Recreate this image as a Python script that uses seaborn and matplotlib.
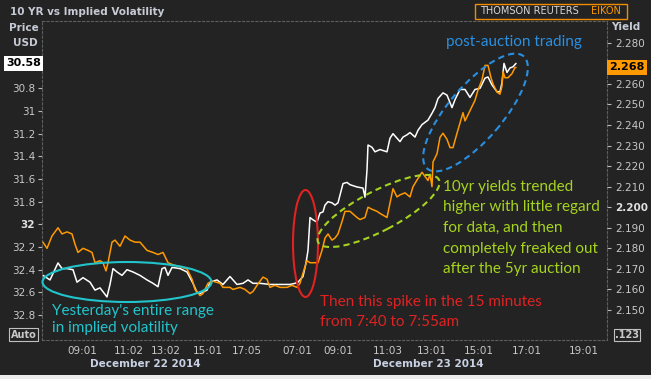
import matplotlib
matplotlib.use("Agg")
import matplotlib.pyplot as plt
import matplotlib.transforms as mtransforms
from matplotlib.patches import Ellipse, Rectangle
import seaborn as sns
import pandas as pd

# ---------------- data ----------------
# x is an intraday "bar index" (the Eikon axis is not linear in time)
price_x = [1, 8, 16, 20, 25, 31, 35, 41, 48, 53,
           58, 65, 68, 71, 75, 80, 85, 91, 98, 105,
           111, 116, 120, 123, 126, 130, 138, 145, 151, 155,
           158, 165, 168, 175, 181, 188, 195, 201, 206, 211,
           218, 228, 238, 248, 253, 256, 261, 264, 266, 268,
           271, 275, 278, 281, 283, 286, 290, 293, 296, 301,
           305, 308, 315, 321, 323, 325, 326, 330, 333, 338,
           345, 348, 351, 355, 358, 361, 365, 368, 373, 376,
           380, 383, 386, 390, 393, 396, 401, 405, 410, 413,
           418, 423, 428, 433, 438, 443, 446, 450, 455, 458,
           460, 462, 465, 468, 471, 474]
price_usd = [32.45, 32.49, 32.34, 32.39, 32.39, 32.40, 32.51, 32.47, 32.51, 32.58,
             32.56, 32.64, 32.53, 32.39, 32.42, 32.45, 32.40, 32.42, 32.45, 32.49,
             32.52, 32.55, 32.39, 32.38, 32.45, 32.38, 32.39, 32.42, 32.52, 32.60,
             32.61, 32.58, 32.51, 32.49, 32.53, 32.46, 32.53, 32.52, 32.49, 32.52,
             32.52, 32.53, 32.53, 32.53, 32.52, 32.51, 32.46, 32.34, 32.23, 31.94,
             31.96, 31.98, 31.90, 31.89, 31.83, 31.80, 31.81, 31.83, 31.81, 31.64,
             31.63, 31.65, 31.67, 31.68, 31.76, 31.52, 31.30, 31.32, 31.36, 31.34,
             31.36, 31.24, 31.20, 31.24, 31.27, 31.23, 31.21, 31.19, 31.23, 31.17,
             31.12, 31.10, 31.08, 31.02, 30.97, 30.89, 30.84, 30.86, 30.97, 30.90,
             30.81, 30.81, 30.88, 30.81, 30.80, 30.71, 30.70, 30.77, 30.83, 30.83,
             30.75, 30.58, 30.66, 30.62, 30.61, 30.58]

yield_x = [1, 5, 10, 13, 16, 20, 25, 30, 33, 36,
           41, 46, 50, 53, 58, 61, 64, 66, 70, 73,
           78, 83, 88, 93, 98, 105, 111, 116, 121, 126,
           131, 138, 145, 150, 153, 155, 158, 161, 166, 171,
           178, 181, 188, 191, 198, 203, 208, 211, 215, 221,
           225, 228, 233, 238, 245, 250, 255, 258, 261, 265,
           268, 273, 276, 280, 283, 286, 290, 293, 296, 300,
           303, 308, 315, 318, 323, 326, 330, 335, 338, 345,
           348, 351, 355, 358, 363, 368, 371, 376, 380, 383,
           386, 388, 390, 391, 395, 398, 401, 405, 408, 411,
           415, 418, 421, 423, 426, 430, 433, 436, 440, 443,
           446, 449, 451, 455, 458, 460, 461, 463, 466, 470,
           473, 474]
yield_pct = [2.183, 2.180, 2.186, 2.188, 2.190, 2.187, 2.188, 2.187, 2.182, 2.178,
             2.180, 2.179, 2.178, 2.173, 2.174, 2.173, 2.169, 2.173, 2.183, 2.184,
             2.181, 2.186, 2.184, 2.183, 2.183, 2.179, 2.178, 2.177, 2.178, 2.173,
             2.172, 2.171, 2.170, 2.165, 2.160, 2.159, 2.157, 2.158, 2.163, 2.164,
             2.163, 2.161, 2.161, 2.160, 2.161, 2.160, 2.158, 2.159, 2.162, 2.166,
             2.165, 2.161, 2.162, 2.161, 2.161, 2.162, 2.161, 2.163, 2.168, 2.174,
             2.173, 2.173, 2.173, 2.179, 2.185, 2.187, 2.184, 2.185, 2.187, 2.193,
             2.198, 2.198, 2.195, 2.194, 2.195, 2.200, 2.199, 2.198, 2.197, 2.195,
             2.202, 2.209, 2.205, 2.206, 2.207, 2.205, 2.210, 2.214, 2.217, 2.215,
             2.213, 2.216, 2.210, 2.222, 2.226, 2.234, 2.236, 2.233, 2.229, 2.229,
             2.236, 2.241, 2.246, 2.242, 2.245, 2.249, 2.252, 2.257, 2.262, 2.269,
             2.269, 2.263, 2.260, 2.256, 2.255, 2.259, 2.266, 2.263, 2.263, 2.265,
             2.268, 2.268]

time_tick_pos = [40, 87, 124, 166, 205, 255, 296, 346, 390, 437, 485, 542]
time_tick_labels = ["09:01", "11:02", "13:02", "15:01", "17:05", "07:01",
                    "09:01", "11:03", "13:01", "15:01", "17:01", "19:01"]
day_labels = ["December 22 2014", "December 23 2014"]
price_ticks = [30.8, 31.0, 31.2, 31.4, 31.6, 31.8, 32.0, 32.2, 32.4, 32.6, 32.8]
price_tick_labels = ["30.8", "31", "31.2", "31.4", "31.6", "31.8", "32",
                     "32.2", "32.4", "32.6", "32.8"]
yield_ticks = [2.15, 2.16, 2.17, 2.18, 2.19, 2.20, 2.21, 2.22, 2.23, 2.24,
               2.25, 2.26, 2.28]
last_price = 30.58
last_yield = 2.268

# ---------------- style ----------------
BG = "#232323"
FG = "#c8c8c8"
HD = "#c6cad4"
W, H = 651, 379
sns.set_style("dark", rc={"axes.facecolor": BG, "figure.facecolor": BG,
                          "axes.grid": False})
plt.rcParams["font.family"] = ["DejaVu Sans"]

fig = plt.figure(figsize=(W / 100, H / 100), dpi=100)
ax = fig.add_axes([42 / W, 1 - 340 / H, (607 - 42) / W, (340 - 21) / H])
ax.set_facecolor(BG)
ax2 = ax.twinx()

df_p = pd.DataFrame({"x": price_x, "v": price_usd})
df_y = pd.DataFrame({"x": yield_x, "v": yield_pct})
sns.lineplot(data=df_p, x="x", y="v", ax=ax, color="white", lw=1.1,
             estimator=None, sort=False)
sns.lineplot(data=df_y, x="x", y="v", ax=ax2, color="#ff9900", lw=1.1,
             estimator=None, sort=False)

ax.set_xlim(0, 565)
ax.set_ylim(33.02, 30.206)
ax2.set_ylim(2.1354, 2.2906)
for a in (ax, ax2):
    a.set_xlabel("")
    a.set_ylabel("")

# frame
for a in (ax, ax2):
    for s in a.spines.values():
        s.set_visible(False)
for s in ax.spines.values():
    s.set_visible(True)
    s.set_color("#5e5e5e")
    s.set_linewidth(0.8)
    s.set_linestyle((0, (2, 2)))

ax.set_xticks(time_tick_pos, time_tick_labels)
ax.set_yticks(price_ticks, price_tick_labels)
ax2.set_yticks(yield_ticks, [f"{v:.3f}" for v in yield_ticks])
ax.tick_params(axis="x", colors="#b8b8b8", labelcolor=FG, labelsize=7.5,
               length=3, width=0.8, pad=1, direction="out")
ax.tick_params(axis="y", colors="#b8b8b8", labelcolor=FG, labelsize=7.5,
               length=3, width=0.8, pad=2, direction="out", left=True)
ax2.tick_params(axis="y", colors="#b8b8b8", labelcolor=FG, labelsize=7.5,
                length=3, width=0.8, pad=3, direction="out", right=True)
for t in ax.get_yticklabels():
    if t.get_text() == "32":
        t.set_fontweight("bold")
        t.set_color("#e0e0e0")
for t in ax2.get_yticklabels():
    if t.get_text() == "2.200":
        t.set_fontweight("bold")
        t.set_color("#e0e0e0")


def px(x, y):
    return x / W, 1 - y / H


# header texts
fig.text(*px(10, 12), "10 YR vs Implied Volatility", color=HD,
         fontsize=7.5, fontweight="bold", va="center", ha="left")
fig.text(*px(39, 28), "Price", color=HD, fontsize=7.5, fontweight="bold",
         va="center", ha="right")
fig.text(*px(38, 43), "USD", color=HD, fontsize=7.5, fontweight="bold",
         va="center", ha="right")
fig.text(*px(640, 27), "Yield", color=HD, fontsize=7.5, fontweight="bold",
         va="center", ha="right")

# Eikon logo
fig.patches.append(Rectangle(px(475, 19), 152 / W, 15 / H, transform=fig.transFigure,
                             fill=False, edgecolor="#f08c00", lw=1))
fig.text(*px(480, 11.5), "THOMSON REUTERS", color="#d8d8d8", fontsize=7,
         va="center", ha="left")
fig.text(*px(621, 11.5), "EIKON", color="#ff9900", fontsize=7,
         va="center", ha="right")

# last-value markers
tr_l = mtransforms.blended_transform_factory(ax.transAxes, ax.transData)
ax.text(-0.002, last_price, f"{last_price:.2f}", transform=tr_l, ha="right",
        va="center", fontsize=8, fontweight="bold", color="black",
        bbox=dict(boxstyle="square,pad=0.22", fc="white", ec="none"), clip_on=False)
tr_r = mtransforms.blended_transform_factory(ax2.transAxes, ax2.transData)
ax2.text(1.004, last_yield, f"{last_yield:.3f}", transform=tr_r, ha="left",
         va="center", fontsize=8, fontweight="bold", color="black",
         bbox=dict(boxstyle="square,pad=0.22", fc="#ff9900", ec="none"), clip_on=False)

# Auto / .123 boxes
fig.text(*px(23.5, 334.5), "Auto", color=FG, fontsize=7, fontweight="bold",
         ha="center", va="center",
         bbox=dict(boxstyle="square,pad=0.15", fc="none", ec="#c0c0c0", lw=0.8))
fig.text(*px(627, 335), ".123", color=FG, fontsize=7, fontweight="bold",
         ha="center", va="center",
         bbox=dict(boxstyle="square,pad=0.15", fc="none", ec="#c0c0c0", lw=0.8))

# day labels
fig.text(*px(145, 364), day_labels[0], color="#c8d2e4", fontsize=7.5,
         fontweight="bold", ha="center", va="center")
fig.text(*px(428, 364), day_labels[1], color="#c8d2e4", fontsize=7.5,
         fontweight="bold", ha="center", va="center")

# bottom light strip
fig.patches.append(Rectangle((0, 0), 1, 4 / H, transform=fig.transFigure,
                             fc="#ececec", ec="none"))

# annotations
AF = ["Lato", "DejaVu Sans"]
CY, RD, GR, BL = "#22c4cc", "#e02222", "#a6d41e", "#2a8fe0"


def ell(cx, cy, w, h, ang, color, ls):
    e = Ellipse((cx / 100, (H - cy) / 100), w / 100, h / 100, angle=ang,
                transform=fig.dpi_scale_trans, fill=False, edgecolor=color,
                lw=1.5, linestyle=ls)
    fig.patches.append(e)


ell(127, 282, 169, 40, 0, CY, "-")
ell(305.5, 243.5, 25, 107, 0, RD, "-")
ell(378.5, 211, 136, 40, 27.5, GR, (0, (3, 2)))
ell(475.5, 112.5, 148, 54, 49.4, BL, (0, (3, 2)))

fig.text(*px(446, 42), "post-auction trading", color=BL, fontsize=11,
         family=AF, ha="left", va="center")
for i, line in enumerate(["10yr yields trended", "higher with little regard",
                          "for data, and then", "completely freaked out",
                          "after the 5yr auction"]):
    fig.text(*px(443, 187 + i * 20.5), line, color=GR, fontsize=11, family=AF,
             ha="left", va="center")
fig.text(*px(320, 302), "Then this spike in the 15 minutes", color=RD,
         fontsize=11, family=AF, ha="left", va="center")
fig.text(*px(320, 322), "from 7:40 to 7:55am", color=RD, fontsize=11,
         family=AF, ha="left", va="center")
fig.text(*px(52, 311), "Yesterday's entire range", color=CY, fontsize=11,
         family=AF, ha="left", va="center")
fig.text(*px(52, 328), "in implied volatility", color=CY, fontsize=11,
         family=AF, ha="left", va="center")

fig.savefig("out.png", dpi=100, facecolor=BG)
